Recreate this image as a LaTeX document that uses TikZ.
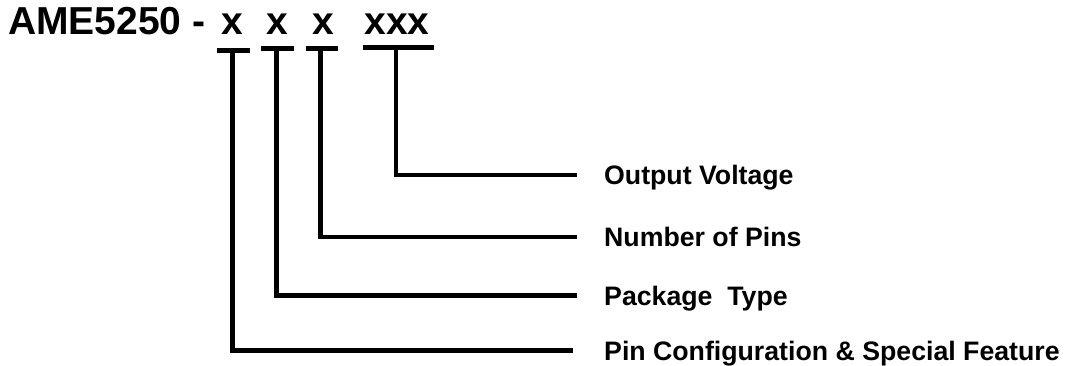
\documentclass[tikz,border=0pt]{standalone}
\usepackage{fontspec}
\setmainfont{Liberation Sans}
\usetikzlibrary{positioning}

\begin{document}
\begin{tikzpicture}[x=1pt,y=-1pt,
        part/.style = {inner sep=0pt, anchor=base, font=\bfseries\fontsize{39}{47}\selectfont},
        lbl/.style = {inner xsep=27pt, inner ysep=0pt, anchor=west, text height=19pt, text depth=0pt, font=\bfseries\fontsize{26.7}{32}\selectfont},
        bar/.style = {line width=5pt},
        lead/.style = {line width=4.6pt}]
        \useasboundingbox (0,0) rectangle (1068,366);
        \node[part, anchor=base west] (name) at (8,35) {AME5250 -};
        \node[part] (pc) at (232,35) {x};
        \node[part] (pk) at (277.5,35) {x};
        \node[part] (np) at (323,35) {x};
        \node[part] (ov) at (397,35) {xxx};
        \coordinate (pcbar) at (233.5,51);
        \coordinate (pkbar) at (277.5,49);
        \coordinate (npbar) at (322,49);
        \coordinate (ovbar) at (398.5,48);
        \node[lbl] (ovlab) at (577,175) {Output Voltage};
        \node[lbl] (nplab) at (577,237) {Number of Pins};
        \node[lbl] (pklab) at (577,295.5) {Package\ \ Type};
        \node[lbl] (pclab) at (577,350.5) {Pin Configuration \& Special Feature};
        \draw[bar] ([xshift=-16.5pt]pcbar) -- ([xshift=16.5pt]pcbar);
        \draw[bar] ([xshift=-16.5pt]pkbar) -- ([xshift=16.5pt]pkbar);
        \draw[bar] ([xshift=-16pt]npbar) -- ([xshift=16pt]npbar);
        \draw[bar] ([xshift=-35.5pt]ovbar) -- ([xshift=35.5pt]ovbar);
        \draw[lead] ([xshift=-1pt]pcbar) |- ([xshift=-4pt]pclab.west);
        \draw[lead] ([xshift=-1pt]pkbar) |- (pklab);
        \draw[lead] ([xshift=-1.5pt]npbar) |- (nplab);
        \draw[lead] ([xshift=-2.5pt]ovbar) |- (ovlab);
        \end{tikzpicture}
\end{document}
